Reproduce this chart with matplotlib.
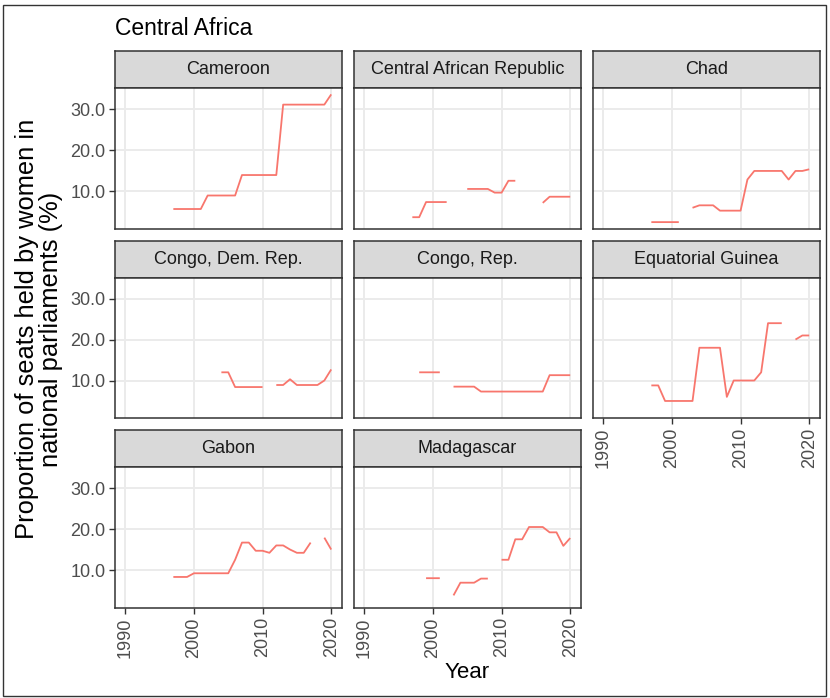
import numpy as np
import matplotlib
matplotlib.use("Agg")
import matplotlib.pyplot as plt
from matplotlib.patches import Rectangle

plt.rcParams['font.family'] = ['Liberation Sans', 'DejaVu Sans']

nan = np.nan
years = list(range(1997, 2021))

cameroon = [5.6]*5 + [8.9]*5 + [13.9]*6 + [31.1]*7 + [33.6]
car = [3.6, 3.6, 7.3, 7.3, 7.3, 7.3, nan, nan, 10.5, 10.5, 10.5, 10.5,
       9.6, 9.6, 12.5, 12.5, nan, nan, nan, 7.1, 8.6, 8.6, 8.6, 8.6]
chad = [2.4]*5 + [nan, 5.9, 6.5, 6.5, 6.5, 5.2, 5.2, 5.2, 5.2, 12.8,
                  14.9, 14.9, 14.9, 14.9, 14.9, 12.8, 14.9, 14.9, 15.3]
congo_dr = [nan]*7 + [12.0, 12.0, 8.4, 8.4, 8.4, 8.4, 8.4, nan, 8.9, 8.9,
                      10.3, 8.9, 8.9, 8.9, 8.9, 10.0, 12.7]
congo_rep = [nan] + [12.0]*4 + [nan] + [8.5]*4 + [7.3]*10 + [11.3]*4
eq_guinea = [8.8, 8.8] + [5.0]*5 + [18.0]*4 + [6.0] + [10.0]*4 + [12.0] \
    + [24.0]*3 + [nan, 20.0, 21.0, 21.0]
gabon = [8.3]*3 + [9.2]*6 + [12.5, 16.7, 16.7, 14.7, 14.7, 14.2, 16.0, 16.0,
                            15.0, 14.2, 14.2, 16.7, nan, 17.9, 15.0]
madagascar = [nan, nan, 8.0, 8.0, 8.0, nan, 3.8, 6.9, 6.9, 6.9, 7.9, 7.9, nan,
              12.5, 12.5, 17.5, 17.5, 20.5, 20.5, 20.5, 19.2, 19.2, 15.9, 17.8]

countries = ["Cameroon", "Central African Republic", "Chad",
             "Congo, Dem. Rep.", "Congo, Rep.", "Equatorial Guinea",
             "Gabon", "Madagascar"]
series = [cameroon, car, chad, congo_dr, congo_rep, eq_guinea, gabon, madagascar]

x_ticks = [1990, 2000, 2010, 2020]
y_ticks = [10, 20, 30]
y_ticklabels = ["10.0", "20.0", "30.0"]

W, H = 830, 698
fig = plt.figure(figsize=(W/100, H/100), dpi=100)


def rect(x0, y0, w, h):
    return [x0/W, 1 - (y0 + h)/H, w/W, h/H]


line_col = "#F8766D"
grid_col = "#EBEBEB"
border_col = "#333333"
tick_txt = "#4D4D4D"

all_vals = np.array([v for s in series for v in s], dtype=float)
lo, hi = np.nanmin(all_vals), np.nanmax(all_vals)
pad = 0.05*(hi - lo)
ylim = (lo - pad, hi + pad)
xlim = (1990 - 1.5, 2020 + 1.5)

col_x = [115, 354, 593]
col_w = 226.5
strip_top = [51, 240.5, 430]
strip_h = 37
panel_h = 140.5

for i, (name, vals) in enumerate(zip(countries, series)):
    r, c = divmod(i, 3)
    x0 = col_x[c]
    st = strip_top[r]
    # facet strip
    sax = fig.add_axes(rect(x0, st, col_w, strip_h))
    sax.set_facecolor("#D9D9D9")
    sax.set_xticks([]); sax.set_yticks([])
    for sp in sax.spines.values():
        sp.set_color(border_col); sp.set_linewidth(1.1)
    sax.text(0.5, 0.5, name, ha="center", va="center", fontsize=13,
             color="#1A1A1A", transform=sax.transAxes)
    # facet panel
    ax = fig.add_axes(rect(x0, st + strip_h, col_w, panel_h))
    ax.set_xlim(*xlim); ax.set_ylim(*ylim)
    ax.set_xticks(x_ticks)
    ax.set_yticks(y_ticks)
    ax.grid(True, color=grid_col, linewidth=1.4)
    ax.set_axisbelow(True)
    for sp in ax.spines.values():
        sp.set_color(border_col); sp.set_linewidth(1.1)
    ax.plot(years, np.array(vals, dtype=float), color=line_col, linewidth=1.3,
            solid_capstyle="butt")
    ax.tick_params(axis="both", length=4.5, width=1.0, color=border_col,
                   labelsize=13, labelcolor=tick_txt, pad=2.5)
    if c == 0:
        ax.set_yticklabels(y_ticklabels)
    else:
        ax.tick_params(axis="y", left=False, labelleft=False)
    if r == 2 or (r == 1 and c == 2):
        ax.set_xticklabels([str(t) for t in x_ticks], rotation=90)
    else:
        ax.tick_params(axis="x", bottom=False, labelbottom=False)

fig.text(115/W, 1 - 35/H, "Central Africa", fontsize=16.5, ha="left",
         va="baseline", color="black")
fig.text(467/W, 1 - 673/H, "Year", fontsize=16, ha="center", va="center",
         color="black")
fig.text(39/W, 1 - 329/H,
         "Proportion of seats held by women in\nnational parliaments (%)",
         fontsize=18.4, rotation=90, ha="center", va="center", color="black",
         multialignment="center", linespacing=1.0)

fig.patches.append(Rectangle((3/W, 1 - 696/H), 823/W, 691/H, fill=False,
                             edgecolor="#333333", linewidth=1.0,
                             transform=fig.transFigure, figure=fig))

fig.savefig("out.png", dpi=100, facecolor="white")
